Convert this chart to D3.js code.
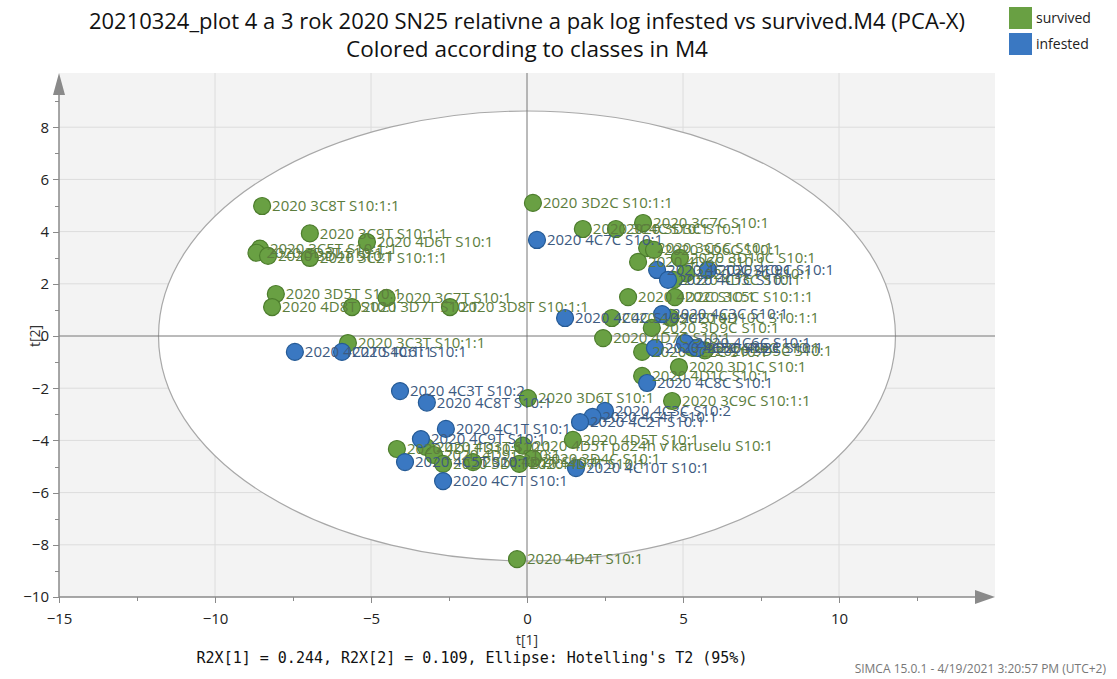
<!DOCTYPE html>
<html lang="en">
<head>
    <meta charset="UTF-8">
    <title>PCA score plot</title>
    <script src="https://cdnjs.cloudflare.com/ajax/libs/d3/7.8.5/d3.min.js"></script>
    <style>
        body { margin: 0; background: #fff; }
        .axis path, .axis line { stroke: #8a8a8a; shape-rendering: crispEdges; }
        .axis text { font: 15px "Open Sans", sans-serif; fill: #222; }
        .lbl { font: 15px "Open Sans", sans-serif; }
    </style>
</head>
<body>
    <svg class="chart"></svg>
    <script>
        // observation names, scores and class
        const survivedNames = [
            '2020 3C8T S10:1:1', '2020 3C9T S10:1:1', '2020 4D6T S10:1', '2020 3C5T S10:1:1',
            '2020 3D3T S10:1', '2020 3D4T S10:1', '2020 3C2T S10:1:1', '2020 3D5T S10:1',
            '2020 4D8T S10:1', '2020 3D7T S10:1', '2020 3C7T S10:1', '2020 3D8T S10:1:1',
            '2020 3C3T S10:1:1', '2020 3D2C S10:1:1', '2020 3C4C S10:1', '2020 3D3C S10:1',
            '2020 3C7C S10:1', '2020 3C6C S10:1', '2020 3D6C S10:1', '2020 4D6C S10:1',
            '2020 3D10C S10:1', '2020 3C1C S10:1', '2020 4D3C S10:1', '2020 4D2C S10:1',
            '2020 3C5C S10:1:1', '2020 4D9C S10:1', '2020 4D10C S10:1:1', '2020 3D9C S10:1',
            '2020 4D7C S10:1', '2020 3C2C S10:1', '2020 3D5C S10:1', '2020 4D4C S10:1',
            '2020 3D1C S10:1', '2020 4D1C S10:1', '2020 3C9C S10:1:1', '2020 3D6T S10:1',
            '2020 4D5T S10:1', '2020 4D1T S10:1', '2020 4D3T S10:1', '2020 4D5T po24h v karuselu S10:1',
            '2020 4D9T S10:1', '2020 3D1T S10:1', '2020 4D2T S10:1', '2020 3D4C S10:1',
            '2020 4D7T S10:1', '2020 4D4T S10:1'
        ];
        const survivedT1 = [
            -8.49, -6.96, -5.13, -8.56, -8.67, -8.30, -6.96, -8.05,
            -8.17, -5.61, -4.50, -2.47, -5.74, 0.19, 1.79, 2.85,
            3.72, 3.85, 4.07, 3.56, 4.90, 5.10, 4.70, 3.24,
            4.74, 2.72, 4.60, 4.00, 2.44, 3.69, 5.70, 5.30,
            4.87, 3.69, 4.65, 0.03, 1.47, -4.17, -3.24, -0.13,
            -2.98, -2.69, -1.73, 0.19, -0.25, -0.32
        ];
        const survivedT2 = [
            4.98, 3.93, 3.60, 3.35, 3.19, 3.07, 2.99, 1.61,
            1.11, 1.11, 1.46, 1.11, -0.27, 5.10, 4.10, 4.10,
            4.33, 3.37, 3.30, 2.84, 2.99, 2.40, 2.15, 1.49,
            1.49, 0.69, 0.70, 0.31, -0.08, -0.61, -0.55, -0.45,
            -1.19, -1.53, -2.49, -2.38, -3.98, -4.33, -4.25, -4.20,
            -4.56, -4.90, -4.83, -4.70, -4.90, -8.55
        ];
        const infestedNames = [
            '2020 4C7C S10:1', '2020 4C10C S10:1', '2020 4C1C S10:1', '2020 4C9C S10:1',
            '2020 4C4C S10:1:1', '2020 4C3C S10:1', '2020 4C5C S10:1', '2020 4C6C S10:1',
            '2020 4C2C S10:1', '2020 4C8C S10:1', '2020 4C3T S10:2', '2020 4C8T S10:1',
            '2020 4C3C S10:2', '2020 4C4T S10:1', '2020 4C2T S10:1', '2020 4C1T S10:1',
            '2020 4C9T S10:1', '2020 4C5T S10:1', '2020 4C10T S10:1', '2020 4C7T S10:1',
            '2020 4C2T S10:1:1', '2020 4C6T S10:1'
        ];
        const infestedT1 = [
            0.32, 4.17, 4.52, 5.80, 1.22, 4.33, 4.10, 5.06,
            5.45, 3.85, -4.07, -3.21, 2.50, 2.10, 1.70, -2.60,
            -3.40, -3.91, 1.57, -2.69, -7.44, -5.93
        ];
        const infestedT2 = [
            3.68, 2.53, 2.15, 2.53, 0.69, 0.84, -0.46, -0.27,
            -0.46, -1.80, -2.11, -2.55, -2.87, -3.10, -3.30, -3.56,
            -3.95, -4.83, -5.06, -5.56, -0.61, -0.61
        ];
        const classNames = ['survived', 'infested'];
        const xTicks = [-15, -10, -5, 0, 5, 10];
        const yTicks = [-10, -8, -6, -4, -2, 0, 2, 4, 6, 8];
        const ellipseR = [11.81, 8.62];

        const W = 1117, H = 679;
        const colors = { survived: '#69a043', infested: '#3a78c2' };
        const strokes = { survived: '#4d7d2d', infested: '#255a95' };
        const textCol = { survived: '#5c7d3d', infested: '#3d5a80' };

        const x = d3.scaleLinear().domain([-15, 15]).range([59, 995]);
        const y = d3.scaleLinear().domain([-10, 10]).range([597, 75]);

        const svg = d3.select('.chart').attr('width', W).attr('height', H);

        // plot background
        svg.append('rect')
            .attr('x', x(-15)).attr('y', 73)
            .attr('width', x(15) - x(-15)).attr('height', y(-10) - 73)
            .attr('fill', '#f3f3f3');

        // grid
        svg.append('g').selectAll('line').data(xTicks.filter(d => d !== -15 && d !== 0))
            .enter().append('line')
            .attr('x1', d => x(d)).attr('x2', d => x(d))
            .attr('y1', 73).attr('y2', y(-10))
            .attr('stroke', '#dcdcdc');
        svg.append('g').selectAll('line').data(yTicks.filter(d => d !== -10 && d !== 0))
            .enter().append('line')
            .attr('x1', x(-15)).attr('x2', x(15))
            .attr('y1', d => y(d)).attr('y2', d => y(d))
            .attr('stroke', '#dcdcdc');

        // Hotelling ellipse
        svg.append('ellipse')
            .attr('cx', x(0)).attr('cy', y(0))
            .attr('rx', x(ellipseR[0]) - x(0))
            .attr('ry', y(0) - y(ellipseR[1]))
            .attr('fill', '#fff').attr('stroke', '#a8a8a8').attr('stroke-width', 1.2);

        // zero lines
        svg.append('line')
            .attr('x1', x(0)).attr('x2', x(0)).attr('y1', 73).attr('y2', y(-10))
            .attr('stroke', '#777');
        svg.append('line')
            .attr('x1', x(-15)).attr('x2', x(15)).attr('y1', y(0)).attr('y2', y(0))
            .attr('stroke', '#777');

        // axes
        const xMinor = d3.range(-12.5, 15, 5);
        const yMinor = d3.range(-9, 10, 2);
        svg.append('g').attr('class', 'x axis')
            .attr('transform', `translate(0, ${y(-10)})`)
            .call(d3.axisBottom(x).tickValues(xTicks).tickSize(6).tickPadding(10).tickSizeOuter(0))
            .call(g => g.select('.domain').remove());
        svg.append('g').attr('class', 'x axis')
            .attr('transform', `translate(0, ${y(-10)})`)
            .call(d3.axisBottom(x).tickValues(xMinor).tickSize(4).tickFormat('').tickSizeOuter(0))
            .call(g => g.select('.domain').remove());
        svg.append('g').attr('class', 'y axis')
            .attr('transform', `translate(${x(-15)}, 0)`)
            .call(d3.axisLeft(y).tickValues(yTicks).tickSize(6).tickPadding(4).tickSizeOuter(0))
            .call(g => g.select('.domain').remove());
        svg.append('g').attr('class', 'y axis')
            .attr('transform', `translate(${x(-15)}, 0)`)
            .call(d3.axisLeft(y).tickValues(yMinor).tickSize(4).tickFormat('').tickSizeOuter(0))
            .call(g => g.select('.domain').remove());

        svg.append('line').attr('x1', x(-15)).attr('x2', x(15) - 6)
            .attr('y1', y(-10)).attr('y2', y(-10)).attr('stroke', '#8a8a8a').attr('stroke-width', 1.5);
        svg.append('line').attr('x1', x(-15)).attr('x2', x(-15))
            .attr('y1', y(-10)).attr('y2', 82).attr('stroke', '#8a8a8a').attr('stroke-width', 1.5);
        // arrow heads
        const xe = x(15), ye = y(-10), x0 = x(-15);
        svg.append('path').attr('d', `M${xe},${ye} L${xe - 20},${ye - 7} L${xe - 20},${ye + 7} Z`).attr('fill', '#8a8a8a');
        svg.append('path').attr('d', `M${x0},73 L${x0 - 6},95 L${x0 + 6},95 Z`).attr('fill', '#8a8a8a');

        // points
        function series(names, t1, t2, cls) {
            return names.map((n, i) => ({ name: n, t1: t1[i], t2: t2[i], cls: cls }));
        }
        const data = series(survivedNames, survivedT1, survivedT2, classNames[0])
            .concat(series(infestedNames, infestedT1, infestedT2, classNames[1]));

        svg.append('g').selectAll('circle').data(data).enter().append('circle')
            .attr('cx', d => x(d.t1)).attr('cy', d => y(d.t2)).attr('r', 8.5)
            .attr('fill', d => colors[d.cls]).attr('stroke', d => strokes[d.cls]).attr('stroke-width', 1.2);

        svg.append('g').selectAll('text').data(data).enter().append('text')
            .attr('class', 'lbl')
            .attr('x', d => x(d.t1) + 10).attr('y', d => y(d.t2))
            .attr('dy', '0.35em')
            .attr('fill', d => textCol[d.cls])
            .text(d => d.name);

        // titles
        svg.append('text').attr('x', 527).attr('y', 29).attr('text-anchor', 'middle')
            .attr('textLength', 876).attr('lengthAdjust', 'spacingAndGlyphs')
            .style('font', '22px "Open Sans", sans-serif').attr('fill', '#111')
            .text('20210324_plot 4 a 3 rok 2020 SN25 relativne a pak log infested vs survived.M4 (PCA-X)');
        svg.append('text').attr('x', 527).attr('y', 57).attr('text-anchor', 'middle')
            .attr('textLength', 362).attr('lengthAdjust', 'spacingAndGlyphs')
            .style('font', '22px "Open Sans", sans-serif').attr('fill', '#111')
            .text('Colored according to classes in M4');

        // axis titles
        svg.append('text').attr('x', x(0)).attr('y', 645).attr('text-anchor', 'middle')
            .style('font', '14px "Open Sans", sans-serif').attr('fill', '#333').text('t[1]');
        svg.append('text').attr('transform', `translate(40, ${y(0)}) rotate(-90)`)
            .attr('text-anchor', 'middle')
            .style('font', '14px "Open Sans", sans-serif').attr('fill', '#333').text('t[2]');

        svg.append('text').attr('x', 472).attr('y', 663).attr('text-anchor', 'middle')
            .style('font', '15px "DejaVu Sans Mono", monospace').attr('fill', '#111')
            .text("R2X[1] = 0.244, R2X[2] = 0.109, Ellipse: Hotelling's T2 (95%)");
        svg.append('text').attr('x', 1106).attr('y', 673).attr('text-anchor', 'end')
            .style('font', '12px "Open Sans", sans-serif').attr('fill', '#777')
            .text('SIMCA 15.0.1 - 4/19/2021 3:20:57 PM (UTC+2)');

        // legend
        const leg = svg.append('g').selectAll('g').data(classNames).enter().append('g')
            .attr('transform', (d, i) => `translate(1009, ${7 + i * 26})`);
        leg.append('rect').attr('width', 23).attr('height', 22).attr('fill', d => colors[d]);
        leg.append('text').attr('x', 27).attr('y', 16)
            .style('font', '14px "Open Sans", sans-serif').attr('fill', '#222').text(d => d);
    </script>
</body>
</html>
